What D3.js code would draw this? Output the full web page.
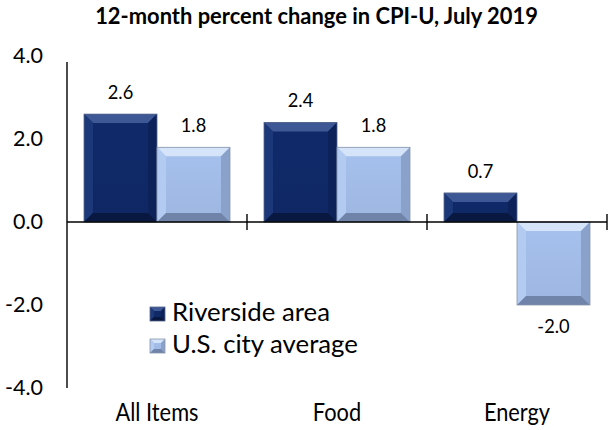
<!DOCTYPE html>
<html>
<head>
<meta charset="utf-8">
<script src="https://cdn.jsdelivr.net/npm/d3@7/dist/d3.min.js"></script>
<style>
  html, body { margin: 0; padding: 0; background: #fff; }
  svg { display: block; }
  text { font-family: Lato, "Open Sans", "Liberation Sans", sans-serif; fill: #000; }
</style>
</head>
<body>
<svg id="chart" width="610" height="430"></svg>
<script>
// Data
const categories = ["All Items", "Food", "Energy"];
const seriesNames = ["Riverside area", "U.S. city average"];
const riverside = [2.6, 2.4, 0.7];
const usAverage = [1.8, 1.8, -2.0];
const yTicks = [4.0, 2.0, 0.0, -2.0, -4.0];
const titleText = "12-month percent change in CPI-U, July 2019";

const seriesValues = [riverside, usAverage];
const palette = [
  { face: "#102a6a", light: "#1d3878", lighter: "#3d5895", dark: "#0c2259", darker: "#081840", edge: "#55658a" },
  { face: "#a6c1ed", light: "#b3cbf0", lighter: "#d6e4f9", dark: "#8aa2c9", darker: "#6f84a8", edge: "#8794aa" }
];

const fmt = v => d3.format(".1f")(v).replace("\u2212", "-");

const svg = d3.select("#chart");
const defs = svg.append("defs");

// Scale the font so that a text spans the given width
function fitWidth(sel, width) {
  const node = sel.node();
  const base = parseFloat(sel.style("font-size"));
  const w = node.getComputedTextLength();
  const size = base * width / w;
  sel.style("font-size", size + "px");
  return size;
}

const y = d3.scaleLinear().domain([-4, 4]).range([388, 56]);
const x0 = d3.scaleBand().domain(categories).range([67, 607]).paddingInner(0).paddingOuter(0);
const x1 = d3.scaleBand().domain(d3.range(seriesNames.length)).range([0, x0.bandwidth()]).paddingOuter(0.233).paddingInner(0);

// Title
const title = svg.append("text")
  .attr("x", 316.5).attr("y", 24)
  .attr("text-anchor", "middle")
  .style("font-size", "18px").style("font-weight", "bold")
  .text(titleText);
fitWidth(title, 443);

// Y axis: line and labels
const yAxis = d3.axisLeft(y).tickValues(yTicks).tickSize(0).tickPadding(24).tickFormat(fmt);
const yg = svg.append("g").attr("transform", "translate(67,0)").call(yAxis);
yg.select(".domain").remove();
yg.append("line").attr("x1", 0).attr("x2", 0).attr("y1", y(4) + 6).attr("y2", y(-4))
  .attr("stroke", "#000").attr("stroke-width", 1.4);
const yText = yg.selectAll(".tick text")
  .style("font-size", "18px").style("font-family", "Lato, 'Open Sans', sans-serif").attr("fill", "#000");
const ySize = fitWidth(yg.selectAll(".tick text").filter(d => d === 4), 30);
yText.style("font-size", ySize + "px");

// Soft vertical shading used on the bar faces
palette.forEach((c, i) => {
  const gr = defs.append("linearGradient").attr("id", "face" + i)
    .attr("x1", 0).attr("y1", 0).attr("x2", 0).attr("y2", 1);
  gr.append("stop").attr("offset", "0%").attr("stop-color", c.face);
  gr.append("stop").attr("offset", "100%").attr("stop-color", d3.color(c.face).darker(0.15));
});

// Bevelled bars
function bevelBar(g, x, yTop, w, h, c, idx, bev) {
  const b = Math.min(bev, h / 2.5, w / 3);
  const x2 = x + w, y2 = yTop + h;
  g.append("rect").attr("x", x).attr("y", yTop).attr("width", w).attr("height", h).attr("fill", `url(#face${idx})`);
  const poly = (pts, fill) => g.append("polygon").attr("points", pts.map(p => p.join(",")).join(" ")).attr("fill", fill);
  poly([[x, yTop], [x2, yTop], [x2 - b, yTop + b], [x + b, yTop + b]], c.lighter);
  poly([[x, yTop], [x + b, yTop + b], [x + b, y2 - b], [x, y2]], c.light);
  poly([[x2, yTop], [x2, y2], [x2 - b, y2 - b], [x2 - b, yTop + b]], c.dark);
  poly([[x, y2], [x + b, y2 - b], [x2 - b, y2 - b], [x2, y2]], c.darker);
  g.append("rect").attr("x", x).attr("y", yTop).attr("width", w).attr("height", h)
    .attr("fill", "none").attr("stroke", c.edge).attr("stroke-width", 0.8);
}

const barsG = svg.append("g");
const valueLabels = [];
categories.forEach((cat, i) => {
  seriesValues.forEach((vals, s) => {
    const v = vals[i];
    const bx = x0(cat) + x1(s);
    const bw = x1.bandwidth();
    const top = y(Math.max(0, v));
    const h = Math.abs(y(v) - y(0));
    bevelBar(barsG, bx, top, bw, h, palette[s], s, 9);
    valueLabels.push(svg.append("text")
      .attr("x", bx + bw / 2)
      .attr("y", v >= 0 ? y(v) - 15 : y(v) + 28)
      .attr("text-anchor", "middle")
      .style("font-size", "18px")
      .text(fmt(v)));
  });
});
const vSize = fitWidth(valueLabels[1], 25.5);
valueLabels.forEach(t => t.style("font-size", vSize + "px"));

// X axis at zero with crossing ticks between categories
const xg = svg.append("g");
xg.append("line").attr("x1", 67).attr("x2", 607).attr("y1", y(0)).attr("y2", y(0))
  .attr("stroke", "#000").attr("stroke-width", 1.4);
categories.forEach(cat => {
  const tx = x0(cat) + x0.bandwidth();
  xg.append("line").attr("x1", tx).attr("x2", tx).attr("y1", y(0) - 8).attr("y2", y(0) + 8)
    .attr("stroke", "#000").attr("stroke-width", 1.4);
});

// Category labels (slightly tall lettering)
const catLabels = categories.map(cat => svg.append("text")
  .attr("transform", `translate(${x0(cat) + x0.bandwidth() / 2},421) scale(1,1.12)`)
  .attr("text-anchor", "middle")
  .style("font-size", "20px")
  .text(cat));
const cSize = fitWidth(catLabels[0], 83);
catLabels.forEach(t => t.style("font-size", cSize + "px"));

// Legend
const legend = svg.append("g").attr("transform", "translate(150,307)");
const legLabels = [];
seriesNames.forEach((name, s) => {
  const g = legend.append("g").attr("transform", `translate(0,${s * 32})`);
  bevelBar(g, 0, 0, 15, 14, palette[s], s, 4);
  legLabels.push(g.append("text").attr("x", 22).attr("y", 14).style("font-size", "22px").text(name));
});
const lSize = fitWidth(legLabels[0], 158);
legLabels.forEach(t => t.style("font-size", lSize + "px"));
</script>
</body>
</html>
